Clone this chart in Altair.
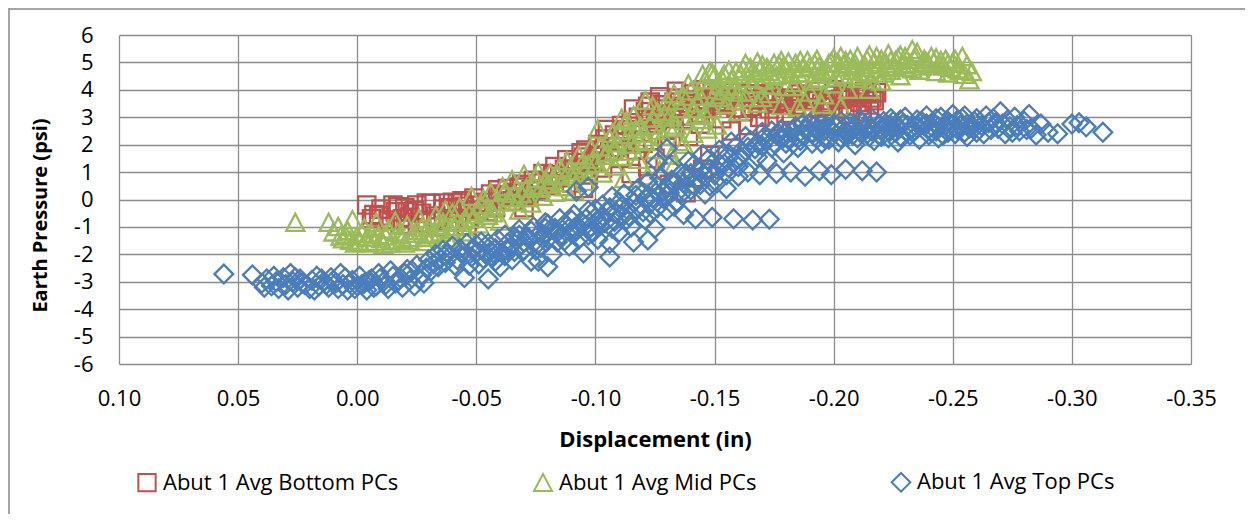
import altair as alt
import pandas as pd

series_names = ["Abut 1 Avg Bottom PCs", "Abut 1 Avg Mid PCs", "Abut 1 Avg Top PCs"]
series_colors = ["#C0504D", "#9BBB59", "#4A7EBB"]
series_shapes = ["square", "M0,-1L1,0.9L-1,0.9Z", "diamond"]
series_sizes = [300, 350, 390]

x_ticks = [0.10, 0.05, 0.0, -0.05, -0.10, -0.15, -0.20, -0.25, -0.30, -0.35]
y_ticks = [-6, -5, -4, -3, -2, -1, 0, 1, 2, 3, 4, 5, 6]

# (displacement in, earth pressure psi)
bottom_pts = [
    (-0.004, -0.20), (-0.007, -0.55), (-0.010, -0.35), (-0.013, -0.75), (-0.016, -0.45), (-0.017, -0.27),
    (-0.018, -0.90), (-0.020, -0.30), (-0.021, -0.45), (-0.022, -0.65), (-0.025, -0.20), (-0.027, -0.50),
    (-0.029, -0.13), (-0.029, -0.85), (-0.031, -0.15), (-0.033, -0.60), (-0.036, -0.13), (-0.036, -0.35),
    (-0.038, -0.80), (-0.040, -0.10), (-0.042, -0.13), (-0.042, -0.50), (-0.045, -0.25), (-0.047, -0.70),
    (-0.049, 0.05), (-0.051, -0.40), (-0.054, -0.10), (-0.056, 0.20), (-0.058, -0.30), (-0.060, 0.10),
    (-0.061, 0.16), (-0.063, 0.40), (-0.065, -0.05), (-0.067, 0.25), (-0.069, 0.55), (-0.072, 0.15),
    (-0.074, 0.70), (-0.076, 0.35), (-0.078, 0.95), (-0.080, 0.64), (-0.081, 0.50), (-0.083, 1.20),
    (-0.085, 0.80), (-0.088, 1.45), (-0.090, 0.60), (-0.092, 1.10), (-0.094, 1.70), (-0.095, 1.55),
    (-0.097, 0.90), (-0.099, 1.40), (-0.101, 2.00), (-0.103, 1.15), (-0.106, 1.75), (-0.108, 2.35),
    (-0.110, 1.50), (-0.112, 2.10), (-0.115, 2.80), (-0.117, 1.80), (-0.119, 2.45), (-0.121, 3.20),
    (-0.123, 3.55), (-0.124, 2.15), (-0.126, 2.90), (-0.127, 3.75), (-0.128, 3.45), (-0.130, 1.90),
    (-0.133, 2.60), (-0.134, 3.95), (-0.135, 3.70), (-0.137, 3.05), (-0.139, 2.30), (-0.140, 3.85),
    (-0.142, 3.60), (-0.144, 2.75), (-0.145, 4.00), (-0.146, 3.35), (-0.148, 1.60), (-0.150, 3.70),
    (-0.151, 3.80), (-0.153, 2.95), (-0.155, 3.50), (-0.156, 3.90), (-0.157, 2.50), (-0.160, 3.90),
    (-0.162, 3.20), (-0.164, 2.70), (-0.165, 3.40), (-0.166, 3.65), (-0.169, 3.00), (-0.171, 3.85),
    (-0.173, 3.30), (-0.175, 2.85), (-0.176, 3.55), (-0.178, 3.70), (-0.180, 3.15), (-0.182, 3.95),
    (-0.184, 3.45), (-0.185, 3.70), (-0.187, 3.00), (-0.189, 3.80), (-0.191, 3.35), (-0.193, 3.95),
    (-0.195, 3.50), (-0.196, 3.20), (-0.198, 3.60), (-0.200, 4.00), (-0.202, 3.40), (-0.205, 3.75),
    (-0.206, 3.30), (-0.207, 3.10), (-0.209, 3.90), (-0.211, 3.55), (-0.212, 3.20), (-0.214, 3.85),
    (-0.216, 3.70), (-0.217, 3.60), (-0.218, 3.90), (-0.138, 0.25), (-0.141, 0.80), (-0.131, 0.55),
    (-0.122, 1.20), (-0.115, 0.95), (-0.125, 1.50), (-0.145, 1.10), (-0.095, 0.40), (-0.070, -0.30),
    (-0.046, -0.95), (-0.033, -1.00), (-0.021, -0.95), (-0.006, -0.70), (-0.015, -0.20),
    (-0.009, -0.60), (-0.019, -0.70), (-0.024, -0.40), (-0.034, -0.70), (-0.039, -0.30), (-0.044, -0.05),
    (-0.050, -0.20), (-0.055, -0.45), (-0.059, 0.35), (-0.064, 0.10), (-0.068, 0.45), (-0.073, 0.35),
    (-0.077, 0.60), (-0.082, 0.90), (-0.087, 1.10), (-0.091, 1.35), (-0.096, 1.80), (-0.100, 1.60),
    (-0.104, 2.20), (-0.109, 1.90), (-0.113, 2.55), (-0.118, 3.00), (-0.120, 2.05), (-0.129, 3.30),
    (-0.132, 2.95), (-0.136, 3.40), (-0.143, 3.15), (-0.147, 3.65), (-0.152, 3.45), (-0.158, 3.60),
    (-0.163, 3.85), (-0.168, 3.50), (-0.174, 3.80), (-0.179, 3.45), (-0.186, 3.85), (-0.192, 3.60),
    (-0.199, 3.80), (-0.203, 3.65), (-0.210, 3.75), (-0.215, 3.45),
    (-0.105, 2.55), (-0.111, 2.70), (-0.116, 3.30), (-0.122, 3.40), (-0.127, 3.05), (-0.133, 3.55),
    (-0.139, 3.50), (-0.144, 3.40), (-0.149, 3.95), (-0.154, 3.70), (-0.159, 3.35), (-0.167, 3.85),
    (-0.172, 3.65), (-0.181, 3.60), (-0.190, 3.75), (-0.197, 3.40), (-0.204, 3.85), (-0.213, 3.95),
]

mid_pts = [
    (0.026, -0.85), (0.012, -0.85), (0.010, -1.20), (0.008, -1.00), (0.006, -1.45), (0.004, -1.15),
    (0.002, -0.75), (0.000, -1.35), (-0.001, -1.55), (-0.003, -1.05), (-0.005, -1.60), (-0.006, -1.25),
    (-0.008, -0.85), (-0.010, -1.45), (-0.011, -1.65), (-0.013, -1.10), (-0.015, -1.50), (-0.016, -0.80),
    (-0.018, -1.30), (-0.020, -1.60), (-0.021, -0.95), (-0.023, -1.40), (-0.025, -1.15), (-0.026, -0.70),
    (-0.028, -1.55), (-0.030, -1.00), (-0.031, -1.30), (-0.033, -0.60), (-0.035, -1.20), (-0.036, -0.85),
    (-0.038, -1.45), (-0.040, -0.50), (-0.041, -1.00), (-0.043, -0.30), (-0.045, -0.75), (-0.046, -1.20),
    (-0.048, 0.10), (-0.050, -0.45), (-0.051, -0.90), (-0.053, 0.00), (-0.055, -0.60), (-0.056, 0.25),
    (-0.058, -0.25), (-0.060, -0.80), (-0.061, 0.45), (-0.063, -0.10), (-0.065, 0.70), (-0.066, 0.20),
    (-0.068, -0.40), (-0.070, 0.90), (-0.071, 0.40), (-0.073, -0.15), (-0.075, 0.75), (-0.076, 1.00),
    (-0.078, 0.10), (-0.080, 0.55), (-0.081, 0.95), (-0.083, 0.25), (-0.085, 1.15), (-0.086, 0.60),
    (-0.088, 1.40), (-0.090, 0.85), (-0.091, 0.30), (-0.093, 1.60), (-0.095, 1.10), (-0.096, 0.65),
    (-0.098, 1.85), (-0.100, 1.30), (-0.101, 2.55), (-0.103, 0.95), (-0.105, 1.70), (-0.106, 2.20),
    (-0.108, 1.20), (-0.110, 2.50), (-0.111, 1.55), (-0.113, 2.85), (-0.115, 2.00), (-0.116, 3.05),
    (-0.118, 1.45), (-0.120, 2.40), (-0.121, 3.60), (-0.123, 2.70), (-0.125, 1.80), (-0.126, 3.20),
    (-0.128, 2.30), (-0.130, 3.55), (-0.131, 2.60), (-0.133, 3.85), (-0.135, 2.10), (-0.136, 3.30),
    (-0.138, 2.85), (-0.140, 3.95), (-0.141, 2.40), (-0.143, 3.50), (-0.145, 4.55), (-0.146, 3.10),
    (-0.148, 4.65), (-0.150, 3.80), (-0.151, 2.70), (-0.153, 4.40), (-0.155, 3.45), (-0.156, 4.70),
    (-0.158, 4.00), (-0.160, 3.20), (-0.161, 4.55), (-0.163, 3.70), (-0.165, 4.80), (-0.166, 4.20),
    (-0.168, 3.50), (-0.170, 4.90), (-0.171, 4.35), (-0.173, 3.85), (-0.175, 4.95), (-0.176, 4.50),
    (-0.178, 3.40), (-0.180, 4.75), (-0.181, 5.00), (-0.183, 4.10), (-0.185, 4.60), (-0.186, 5.05),
    (-0.188, 3.55), (-0.190, 4.85), (-0.191, 4.30), (-0.193, 5.10), (-0.195, 4.65), (-0.196, 3.80),
    (-0.198, 4.95), (-0.200, 5.15), (-0.201, 4.45), (-0.203, 4.80), (-0.205, 5.05), (-0.206, 4.00),
    (-0.208, 4.70), (-0.210, 5.20), (-0.211, 4.50), (-0.213, 4.90), (-0.215, 5.25), (-0.216, 4.35),
    (-0.218, 4.75), (-0.220, 5.10), (-0.221, 4.60), (-0.223, 5.30), (-0.225, 4.85), (-0.226, 5.05),
    (-0.228, 4.50), (-0.230, 5.20), (-0.231, 4.80), (-0.233, 5.45), (-0.235, 5.35), (-0.236, 4.70),
    (-0.238, 5.10), (-0.240, 4.90), (-0.241, 5.20), (-0.243, 4.65), (-0.245, 5.05), (-0.246, 4.85),
    (-0.248, 4.60), (-0.250, 5.00), (-0.252, 4.75), (-0.254, 5.20), (-0.255, 4.55), (-0.256, 4.90),
    (-0.257, 4.35), (-0.258, 4.65), (-0.150, 4.50), (-0.152, 4.20), (-0.157, 4.35), (-0.162, 4.75),
    (-0.167, 4.60), (-0.172, 4.80), (-0.177, 4.90), (-0.182, 4.55), (-0.187, 4.80), (-0.192, 4.95),
    (-0.197, 4.70), (-0.202, 4.95), (-0.207, 5.10), (-0.212, 4.80), (-0.217, 5.00), (-0.222, 4.95),
    (-0.227, 5.15), (-0.232, 4.95), (-0.237, 4.85), (-0.242, 5.00), (-0.247, 5.10), (-0.160, 3.90),
    (-0.170, 3.70), (-0.180, 4.10), (-0.190, 3.90), (-0.200, 4.20), (-0.210, 4.40), (-0.220, 4.30),
    (-0.185, 3.35), (-0.195, 3.45), (-0.203, 3.37), (-0.215, 4.00), (-0.142, 3.05), (-0.147, 2.55),
    (-0.137, 2.00), (-0.132, 1.60), (-0.127, 1.05), (-0.122, 0.85), (-0.133, 1.25), (-0.112, 0.75),
    (-0.118, 2.15), (-0.108, 1.75), (-0.097, 1.25), (-0.092, 0.95), (-0.087, 0.45), (-0.082, 0.70),
    (-0.077, 0.40), (-0.072, 0.05), (-0.067, -0.10), (-0.062, 0.30), (-0.057, -0.50), (-0.052, -0.20),
    (-0.047, -0.55), (-0.042, -0.85), (-0.037, -0.40), (-0.032, -1.25), (-0.027, -1.05), (-0.022, -1.50),
    (-0.017, -1.20), (-0.012, -1.35), (-0.007, -1.55), (-0.002, -1.25), (0.003, -1.50), (0.007, -1.35),
    (-0.146, 4.35), (-0.149, 4.60), (-0.154, 4.55), (-0.159, 4.65), (-0.164, 4.40), (-0.169, 4.70),
    (-0.174, 4.55), (-0.179, 4.85), (-0.184, 4.95), (-0.189, 5.05), (-0.194, 4.85), (-0.199, 5.00),
    (-0.204, 4.90), (-0.209, 4.95), (-0.214, 5.10), (-0.219, 4.90), (-0.224, 5.05), (-0.229, 4.90),
    (-0.234, 5.10), (-0.239, 5.00), (-0.244, 4.90), (-0.249, 4.80), (-0.253, 4.70),
    (-0.139, 4.20), (-0.134, 3.60), (-0.129, 3.10), (-0.124, 2.95), (-0.119, 2.65), (-0.114, 2.35),
    (-0.109, 2.05), (-0.104, 1.60), (-0.099, 1.45), (-0.094, 1.25), (-0.089, 1.05), (-0.084, 0.85),
    (-0.079, 0.70), (-0.074, 0.50), (-0.069, 0.20), (-0.064, 0.05), (-0.059, -0.10), (-0.054, -0.35),
    (-0.049, -0.70), (-0.044, -1.00), (-0.039, -1.10), (-0.034, -0.95), (-0.029, -1.40), (-0.024, -1.25),
    (-0.019, -1.45), (-0.014, -1.60), (-0.009, -1.30), (-0.004, -1.40), (0.001, -1.60), (0.005, -1.30),
    (-0.154, 3.95), (-0.164, 3.90), (-0.174, 4.15), (-0.184, 4.25), (-0.194, 4.40), (-0.204, 4.55),
    (-0.214, 4.60), (-0.224, 4.70), (-0.144, 3.75), (-0.149, 3.30), (-0.159, 3.60),
    (-0.163, 4.95), (-0.168, 5.00), (-0.173, 4.65), (-0.178, 5.05), (-0.183, 4.75), (-0.188, 4.60),
    (-0.193, 4.75), (-0.198, 4.55), (-0.203, 5.20), (-0.208, 4.85), (-0.213, 4.65), (-0.218, 5.20),
    (-0.223, 4.80), (-0.228, 5.25), (-0.233, 4.75), (-0.238, 4.95), (-0.243, 5.15), (-0.248, 4.95),
    (-0.251, 5.10), (-0.102, 1.90), (-0.107, 2.40), (-0.111, 2.95), (-0.114, 1.75), (-0.117, 2.55),
    (-0.121, 2.10), (-0.124, 3.40), (-0.127, 2.50), (-0.131, 3.00), (-0.134, 2.70), (-0.137, 3.75),
    (-0.141, 3.30), (-0.144, 2.90), (-0.147, 4.00), (-0.152, 3.70), (-0.156, 4.10),
]

top_pts = [
    (0.056, -2.72), (0.044, -2.75), (0.040, -3.05), (0.038, -2.90), (0.036, -3.15), (0.034, -3.00),
    (0.033, -3.25), (0.031, -2.85), (0.030, -3.10), (0.028, -2.70), (0.027, -3.00), (0.025, -3.20),
    (0.024, -2.90), (0.022, -3.10), (0.020, -3.25), (0.019, -2.95), (0.017, -2.80), (0.016, -3.15),
    (0.014, -3.00), (0.012, -3.20), (0.011, -2.85), (0.009, -3.05), (0.007, -2.70), (0.006, -3.10),
    (0.004, -3.30), (0.002, -2.95), (0.000, -3.15), (-0.001, -2.80), (-0.003, -3.05), (-0.004, -3.30),
    (-0.006, -2.90), (-0.008, -3.15), (-0.009, -2.70), (-0.011, -3.00), (-0.013, -3.25), (-0.014, -2.60),
    (-0.016, -3.05), (-0.018, -2.85), (-0.019, -3.20), (-0.021, -2.55), (-0.022, -2.95), (-0.024, -3.15),
    (-0.025, -2.40), (-0.027, -2.75), (-0.028, -3.05), (-0.030, -2.20), (-0.031, -2.60), (-0.033, -2.00),
    (-0.034, -2.45), (-0.036, -1.85), (-0.037, -2.30), (-0.039, -2.05), (-0.040, -1.70), (-0.042, -2.20),
    (-0.044, -1.90), (-0.045, -2.85), (-0.046, -1.60), (-0.048, -2.10), (-0.049, -1.80), (-0.051, -2.35),
    (-0.052, -1.55), (-0.054, -2.00), (-0.055, -2.90), (-0.056, -1.70), (-0.058, -2.25), (-0.059, -1.45),
    (-0.061, -1.95), (-0.062, -1.30), (-0.064, -1.75), (-0.065, -2.20), (-0.067, -1.50), (-0.068, -1.10),
    (-0.070, -1.85), (-0.071, -1.35), (-0.073, -2.25), (-0.074, -1.00), (-0.076, -1.60), (-0.077, -1.20),
    (-0.079, -0.85), (-0.080, -1.45), (-0.082, -2.00), (-0.083, -1.05), (-0.085, -0.70), (-0.086, -1.30),
    (-0.088, -0.95), (-0.089, -1.70), (-0.091, -0.55), (-0.092, -1.15), (-0.094, -0.80), (-0.095, -1.95),
    (-0.097, -0.40), (-0.098, -1.00), (-0.100, -0.65), (-0.101, -1.45), (-0.103, -0.20), (-0.104, -0.85),
    (-0.106, -1.60), (-0.107, 0.10), (-0.109, -0.50), (-0.110, -1.20), (-0.112, 0.20), (-0.113, -0.35),
    (-0.115, -1.00), (-0.116, -1.55), (-0.118, 0.40), (-0.119, -0.20), (-0.121, -0.75), (-0.122, 0.65),
    (-0.124, 0.05), (-0.125, -1.05), (-0.127, 0.80), (-0.128, 0.30), (-0.130, -0.40), (-0.131, 1.20),
    (-0.133, 0.55), (-0.134, -0.10), (-0.136, 0.95), (-0.137, -0.55), (-0.139, 1.40), (-0.140, 0.35),
    (-0.142, -0.70), (-0.143, 0.75), (-0.145, 1.65), (-0.146, 0.20), (-0.148, 1.10), (-0.149, -0.65),
    (-0.151, 0.60), (-0.152, 1.80), (-0.154, 1.30), (-0.155, 0.40), (-0.157, 2.10), (-0.158, -0.70),
    (-0.160, 0.85), (-0.161, 1.55), (-0.163, 2.30), (-0.164, 1.00), (-0.166, -0.75), (-0.167, 1.85),
    (-0.169, 0.90), (-0.170, 2.45), (-0.172, 1.40), (-0.173, -0.72), (-0.175, 2.05), (-0.176, 0.95),
    (-0.178, 2.55), (-0.179, 1.70), (-0.181, 2.20), (-0.182, 1.00), (-0.184, 2.65), (-0.185, 1.90),
    (-0.187, 2.35), (-0.188, 0.85), (-0.190, 2.80), (-0.191, 2.05), (-0.193, 2.50), (-0.194, 1.05),
    (-0.196, 2.25), (-0.197, 2.70), (-0.199, 0.90), (-0.200, 2.45), (-0.202, 2.10), (-0.203, 2.85),
    (-0.205, 1.10), (-0.206, 2.35), (-0.208, 2.60), (-0.209, 2.00), (-0.211, 2.90), (-0.212, 1.05),
    (-0.214, 2.40), (-0.215, 2.70), (-0.217, 2.15), (-0.218, 1.00), (-0.220, 2.55), (-0.221, 2.85),
    (-0.223, 2.25), (-0.224, 2.95), (-0.226, 2.45), (-0.227, 2.10), (-0.229, 2.75), (-0.230, 3.00),
    (-0.232, 2.35), (-0.233, 2.60), (-0.235, 2.90), (-0.236, 2.20), (-0.238, 2.70), (-0.239, 3.05),
    (-0.241, 2.45), (-0.242, 2.80), (-0.244, 2.25), (-0.245, 3.00), (-0.247, 2.55), (-0.248, 2.85),
    (-0.250, 3.10), (-0.251, 2.40), (-0.253, 2.70), (-0.254, 2.95), (-0.256, 2.30), (-0.257, 2.60),
    (-0.259, 2.85), (-0.260, 2.45), (-0.262, 2.70), (-0.264, 3.05), (-0.266, 2.55), (-0.268, 2.80),
    (-0.270, 3.20), (-0.272, 2.40), (-0.274, 2.65), (-0.276, 3.00), (-0.278, 2.50), (-0.280, 2.85),
    (-0.282, 3.10), (-0.283, 2.60), (-0.285, 2.35), (-0.287, 2.75), (-0.290, 2.45), (-0.294, 2.40),
    (-0.300, 2.75), (-0.303, 2.80), (-0.306, 2.65), (-0.313, 2.45),
    (-0.047, -2.40), (-0.053, -2.15), (-0.057, -1.95), (-0.060, -2.45), (-0.063, -1.60), (-0.066, -1.90),
    (-0.069, -1.65), (-0.072, -1.40), (-0.075, -1.85), (-0.078, -1.30), (-0.081, -1.10), (-0.084, -1.55),
    (-0.087, -0.90), (-0.090, -1.25), (-0.093, -1.45), (-0.096, -0.70), (-0.099, -1.20), (-0.102, -0.95),
    (-0.105, -0.45), (-0.108, -0.80), (-0.111, -0.25), (-0.114, -0.60), (-0.117, 0.15), (-0.120, -0.45),
    (-0.123, -0.15), (-0.126, 0.50), (-0.129, 0.00), (-0.132, 0.70), (-0.135, 0.30), (-0.138, 0.95),
    (-0.141, 1.25), (-0.144, 0.55), (-0.147, 1.45), (-0.150, 0.90), (-0.153, 1.60), (-0.156, 1.15),
    (-0.159, 1.95), (-0.162, 1.70), (-0.165, 2.15), (-0.168, 1.55), (-0.171, 2.30), (-0.174, 1.90),
    (-0.177, 2.40), (-0.180, 2.05), (-0.183, 2.50), (-0.186, 2.15), (-0.189, 2.60), (-0.192, 2.30),
    (-0.195, 2.75), (-0.198, 2.20), (-0.201, 2.65), (-0.204, 2.40), (-0.207, 2.80), (-0.210, 2.25),
    (-0.213, 2.60), (-0.216, 2.95), (-0.219, 2.35), (-0.222, 2.65), (-0.225, 2.85), (-0.228, 2.30),
    (-0.231, 2.70), (-0.234, 2.50), (-0.237, 2.85), (-0.240, 2.60), (-0.243, 2.95), (-0.246, 2.35),
    (-0.249, 2.75), (-0.252, 2.55), (-0.255, 3.05), (-0.258, 2.70), (-0.130, 1.85), (-0.126, 1.35),
    (-0.076, -2.25), (-0.080, -2.45), (-0.106, -2.10), (-0.122, -1.48), (-0.092, 0.30), (-0.097, 0.45),
    (0.039, -3.20), (0.035, -2.80), (0.029, -3.30), (0.026, -2.85), (0.023, -3.05), (0.018, -3.30),
    (0.015, -2.90), (0.013, -3.10), (0.010, -2.95), (0.008, -3.25), (0.005, -2.85), (0.003, -3.05),
    (0.001, -3.25), (-0.002, -3.10), (-0.005, -2.95), (-0.007, -3.20), (-0.010, -2.85), (-0.012, -3.10),
    (-0.015, -2.80), (-0.017, -3.00), (-0.020, -2.70), (-0.023, -2.60), (-0.026, -2.90), (-0.029, -2.50),
    (-0.032, -2.35), (-0.035, -2.15), (-0.038, -1.95), (-0.041, -2.40), (-0.043, -1.80),
    (-0.050, -1.95), (-0.055, -1.60), (-0.058, -1.80), (-0.062, -2.05), (-0.066, -1.35), (-0.070, -1.55),
    (-0.073, -1.15), (-0.077, -1.75), (-0.080, -0.90), (-0.084, -1.20), (-0.087, -1.50), (-0.090, -0.75),
    (-0.093, -1.00), (-0.097, -1.30), (-0.100, -0.35), (-0.103, -0.60), (-0.107, -1.05), (-0.110, -0.10),
    (-0.113, -0.75), (-0.117, -0.35), (-0.120, 0.25), (-0.123, -0.50), (-0.127, 0.15), (-0.130, 0.45),
    (-0.133, -0.25), (-0.137, 0.60), (-0.140, 0.95), (-0.144, 1.05), (-0.148, 0.50), (-0.152, 1.30),
    (-0.156, 1.65), (-0.160, 1.20), (-0.164, 1.90), (-0.168, 2.05),
    (-0.172, 2.20), (-0.176, 2.35), (-0.180, 2.45), (-0.184, 2.30), (-0.188, 2.55), (-0.192, 2.70),
    (-0.196, 2.50), (-0.200, 2.75), (-0.204, 2.60), (-0.208, 2.35), (-0.212, 2.80), (-0.216, 2.50),
    (-0.220, 2.30), (-0.224, 2.70), (-0.228, 2.90), (-0.232, 2.55), (-0.236, 2.80), (-0.240, 2.35),
    (-0.244, 2.65), (-0.248, 2.45), (-0.252, 2.90), (-0.256, 2.75), (-0.260, 2.95), (-0.265, 2.80),
    (-0.269, 2.60), (-0.273, 2.90), (-0.277, 2.70), (-0.281, 2.55),
    (-0.170, 1.95), (-0.174, 2.50), (-0.179, 2.25), (-0.183, 2.05), (-0.187, 2.75), (-0.191, 2.45),
    (-0.195, 2.05), (-0.199, 2.55), (-0.203, 2.25), (-0.207, 2.55), (-0.211, 2.45), (-0.215, 2.30),
    (-0.219, 2.75), (-0.223, 2.50), (-0.227, 2.65), (-0.231, 2.45), (-0.235, 2.60), (-0.239, 2.75),
    (-0.243, 2.50), (-0.247, 2.70), (-0.251, 2.65), (-0.255, 2.45), (-0.259, 2.60), (-0.263, 2.40),
    (-0.267, 2.95), (-0.271, 2.75), (-0.275, 2.45),
    (-0.045, -2.05), (-0.050, -1.65), (-0.057, -2.10), (-0.063, -1.85), (-0.068, -1.30), (-0.074, -1.60),
    (-0.079, -1.05), (-0.085, -1.35), (-0.091, -1.05), (-0.096, -0.95), (-0.101, -0.80), (-0.106, -0.30),
    (-0.111, -0.55), (-0.116, -0.10), (-0.121, 0.05), (-0.126, -0.30), (-0.131, 0.25), (-0.136, 0.20),
    (-0.141, 0.55), (-0.146, 0.85), (-0.151, 1.10), (-0.155, 0.90), (-0.159, 1.45),
]

rows = []
for name, pts in zip(series_names, [bottom_pts, mid_pts, top_pts]):
    for dx, p in pts:
        rows.append({"series": name, "disp": dx, "pressure": p})
df = pd.DataFrame(rows)

W, H = 1072, 329

legend = alt.Legend(
    title=None, orient="none", direction="horizontal", legendX=17, legendY=436,
    labelFont="Open Sans", labelFontSize=22, labelColor="black", labelOffset=5, labelLimit=0,
    symbolSize=260, symbolStrokeWidth=2, columnPadding=130, padding=0,
)

points = alt.Chart(df).mark_point(filled=False, strokeWidth=2.3, opacity=1).encode(
    x=alt.X(
        "disp:Q",
        scale=alt.Scale(domain=[-0.35, 0.10], reverse=True, nice=False, zero=False),
        axis=alt.Axis(
            values=x_ticks, title="Displacement (in)",
            labelExpr="datum.value < -0.0001 ? '-' + format(-datum.value, '.2f') : format(abs(datum.value), '.2f')",
            labelPadding=24, titleY=82, titleBaseline="alphabetic",
            labelFlush=False, labelOverlap=False,
        ),
    ),
    y=alt.Y(
        "pressure:Q",
        scale=alt.Scale(domain=[-6, 6], nice=False, zero=False),
        axis=alt.Axis(
            values=y_ticks, title="Earth Pressure (psi)",
            labelExpr="'' + datum.value",
            labelPadding=26, titleX=-73, titleY=180, titleBaseline="alphabetic",
            titleFontSize=20, labelFlush=False, labelOverlap=False,
        ),
    ),
    color=alt.Color("series:N", scale=alt.Scale(domain=series_names, range=series_colors), legend=legend),
    shape=alt.Shape("series:N", scale=alt.Scale(domain=series_names, range=series_shapes), legend=legend),
    size=alt.Size("series:N", scale=alt.Scale(domain=series_names, range=series_sizes), legend=None),
)

frame_left = alt.Chart(alt.Data(values=[{"k": 1}])).mark_rule(color="#888888", strokeWidth=1.5).encode(
    x=alt.value(-110), y=alt.value(-27), y2=alt.value(H + 160)
)
frame_top = alt.Chart(alt.Data(values=[{"k": 1}])).mark_rule(color="#888888", strokeWidth=1.5).encode(
    x=alt.value(-110), x2=alt.value(W + 70), y=alt.value(-26)
)

chart = alt.layer(points, frame_left, frame_top).properties(
    width=W, height=H,
    autosize=alt.AutoSizeParams(type="none"),
    padding={"left": 111, "top": 27, "right": 54, "bottom": 150},
).configure_view(stroke=None).configure_axis(
    grid=True, gridColor="#8c8c8c", gridWidth=1.3, domain=False, ticks=False,
    labelFont="Open Sans", labelFontSize=22, labelColor="black",
    titleFont="Open Sans", titleFontSize=22, titleFontWeight="bold", titleColor="black",
)

chart.save("out.html", embed_options={"renderer": "svg", "actions": False})
